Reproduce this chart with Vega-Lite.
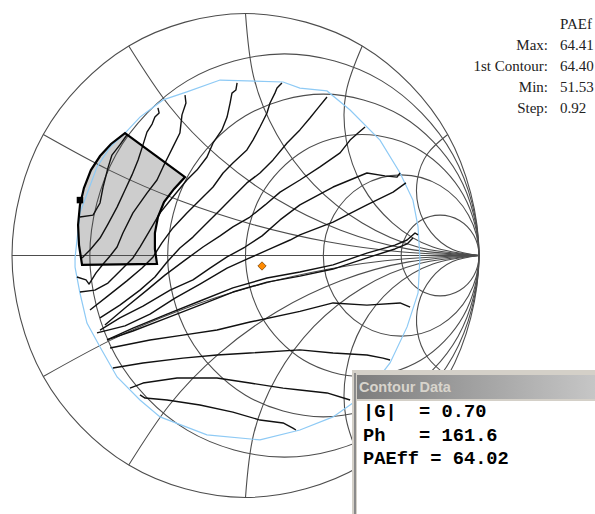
{
  "$schema": "https://vega.github.io/schema/vega-lite/v6.json",
  "description": "Smith chart with PAE load-pull contours, reflection-coefficient plane",
  "width": 595,
  "height": 514,
  "padding": 0,
  "autosize": "none",
  "background": "#ffffff",
  "config": {"view": {"stroke": null}},
  "datasets": {
    "rcircles": [
      {"c": "r0", "re": 1, "im": 0}, {"c": "r0", "re": 0.866, "im": 0.5}, {"c": "r0", "re": 0.5, "im": 0.866}, {"c": "r0", "re": 0, "im": 1},
      {"c": "r0", "re": -0.5, "im": 0.866}, {"c": "r0", "re": -0.866, "im": 0.5}, {"c": "r0", "re": -1, "im": 0}, {"c": "r0", "re": -0.866, "im": -0.5},
      {"c": "r0", "re": -0.5, "im": -0.866}, {"c": "r0", "re": 0, "im": -1}, {"c": "r0", "re": 0.5, "im": -0.866}, {"c": "r0", "re": 0.866, "im": -0.5},
      {"c": "r0.2", "re": 1, "im": 0}, {"c": "r0.2", "re": 0.8884, "im": 0.4167}, {"c": "r0.2", "re": 0.5833, "im": 0.7217}, {"c": "r0.2", "re": 0.1667, "im": 0.8333},
      {"c": "r0.2", "re": -0.25, "im": 0.7217}, {"c": "r0.2", "re": -0.555, "im": 0.4167}, {"c": "r0.2", "re": -0.6667, "im": 0}, {"c": "r0.2", "re": -0.555, "im": -0.4167},
      {"c": "r0.2", "re": -0.25, "im": -0.7217}, {"c": "r0.2", "re": 0.1667, "im": -0.8333}, {"c": "r0.2", "re": 0.5833, "im": -0.7217}, {"c": "r0.2", "re": 0.8884, "im": -0.4167},
      {"c": "r0.5", "re": 1, "im": 0}, {"c": "r0.5", "re": 0.9107, "im": 0.3333}, {"c": "r0.5", "re": 0.6667, "im": 0.5774}, {"c": "r0.5", "re": 0.3333, "im": 0.6667},
      {"c": "r0.5", "re": 0, "im": 0.5774}, {"c": "r0.5", "re": -0.244, "im": 0.3333}, {"c": "r0.5", "re": -0.3333, "im": 0}, {"c": "r0.5", "re": -0.244, "im": -0.3333},
      {"c": "r0.5", "re": 0, "im": -0.5774}, {"c": "r0.5", "re": 0.3333, "im": -0.6667}, {"c": "r0.5", "re": 0.6667, "im": -0.5774}, {"c": "r0.5", "re": 0.9107, "im": -0.3333},
      {"c": "r1", "re": 1, "im": 0}, {"c": "r1", "re": 0.933, "im": 0.25}, {"c": "r1", "re": 0.75, "im": 0.433}, {"c": "r1", "re": 0.5, "im": 0.5},
      {"c": "r1", "re": 0.25, "im": 0.433}, {"c": "r1", "re": 0.067, "im": 0.25}, {"c": "r1", "re": 0, "im": 0}, {"c": "r1", "re": 0.067, "im": -0.25},
      {"c": "r1", "re": 0.25, "im": -0.433}, {"c": "r1", "re": 0.5, "im": -0.5}, {"c": "r1", "re": 0.75, "im": -0.433}, {"c": "r1", "re": 0.933, "im": -0.25},
      {"c": "r2", "re": 1, "im": 0}, {"c": "r2", "re": 0.9553, "im": 0.1667}, {"c": "r2", "re": 0.8333, "im": 0.2887}, {"c": "r2", "re": 0.6667, "im": 0.3333},
      {"c": "r2", "re": 0.5, "im": 0.2887}, {"c": "r2", "re": 0.378, "im": 0.1667}, {"c": "r2", "re": 0.3333, "im": 0}, {"c": "r2", "re": 0.378, "im": -0.1667},
      {"c": "r2", "re": 0.5, "im": -0.2887}, {"c": "r2", "re": 0.6667, "im": -0.3333}, {"c": "r2", "re": 0.8333, "im": -0.2887}, {"c": "r2", "re": 0.9553, "im": -0.1667},
      {"c": "r5", "re": 1, "im": 0}, {"c": "r5", "re": 0.9776, "im": 0.0833}, {"c": "r5", "re": 0.9167, "im": 0.1443}, {"c": "r5", "re": 0.8333, "im": 0.1667},
      {"c": "r5", "re": 0.75, "im": 0.1443}, {"c": "r5", "re": 0.689, "im": 0.0833}, {"c": "r5", "re": 0.6667, "im": 0}, {"c": "r5", "re": 0.689, "im": -0.0833},
      {"c": "r5", "re": 0.75, "im": -0.1443}, {"c": "r5", "re": 0.8333, "im": -0.1667}, {"c": "r5", "re": 0.9167, "im": -0.1443}, {"c": "r5", "re": 0.9776, "im": -0.0833}
    ],
    "xarcs": [
      {"c": "axis", "re": -1, "im": 0}, {"c": "axis", "re": 1, "im": 0},
      {"c": "x0.27", "re": -0.866, "im": 0.5}, {"c": "x0.27", "re": -0.5772, "im": 0.3497}, {"c": "x0.27", "re": -0.2764, "im": 0.2251}, {"c": "x0.27", "re": 0.0341, "im": 0.1272}, {"c": "x0.27", "re": 0.352, "im": 0.0567}, {"c": "x0.27", "re": 0.6747, "im": 0.0142}, {"c": "x0.27", "re": 1, "im": 0},
      {"c": "x0.58", "re": -0.5, "im": 0.866}, {"c": "x0.58", "re": -0.3268, "im": 0.6188}, {"c": "x0.58", "re": -0.1134, "im": 0.4053}, {"c": "x0.58", "re": 0.134, "im": 0.2321}, {"c": "x0.58", "re": 0.4076, "im": 0.1045}, {"c": "x0.58", "re": 0.6992, "im": 0.0263}, {"c": "x0.58", "re": 1, "im": 0},
      {"c": "x1", "re": 0, "im": 1}, {"c": "x1", "re": 0.0341, "im": 0.7412}, {"c": "x1", "re": 0.134, "im": 0.5}, {"c": "x1", "re": 0.2929, "im": 0.2929}, {"c": "x1", "re": 0.5, "im": 0.134}, {"c": "x1", "re": 0.7412, "im": 0.0341}, {"c": "x1", "re": 1, "im": 0},
      {"c": "x1.73", "re": 0.5, "im": 0.866}, {"c": "x1.73", "re": 0.4314, "im": 0.6776}, {"c": "x1.73", "re": 0.4314, "im": 0.4772}, {"c": "x1.73", "re": 0.5, "im": 0.2887}, {"c": "x1.73", "re": 0.6289, "im": 0.1351}, {"c": "x1.73", "re": 0.8025, "im": 0.0348}, {"c": "x1.73", "re": 1, "im": 0},
      {"c": "x3.73", "re": 0.866, "im": 0.5}, {"c": "x3.73", "re": 0.7805, "im": 0.4216}, {"c": "x3.73", "re": 0.7362, "im": 0.3144}, {"c": "x3.73", "re": 0.7412, "im": 0.1986}, {"c": "x3.73", "re": 0.7948, "im": 0.0957}, {"c": "x3.73", "re": 0.8868, "im": 0.0251}, {"c": "x3.73", "re": 1, "im": 0},
      {"c": "x-0.27", "re": -0.866, "im": -0.5}, {"c": "x-0.27", "re": -0.5772, "im": -0.3497}, {"c": "x-0.27", "re": -0.2764, "im": -0.2251}, {"c": "x-0.27", "re": 0.0341, "im": -0.1272}, {"c": "x-0.27", "re": 0.352, "im": -0.0567}, {"c": "x-0.27", "re": 0.6747, "im": -0.0142}, {"c": "x-0.27", "re": 1, "im": 0},
      {"c": "x-0.58", "re": -0.5, "im": -0.866}, {"c": "x-0.58", "re": -0.3268, "im": -0.6188}, {"c": "x-0.58", "re": -0.1134, "im": -0.4053}, {"c": "x-0.58", "re": 0.134, "im": -0.2321}, {"c": "x-0.58", "re": 0.4076, "im": -0.1045}, {"c": "x-0.58", "re": 0.6992, "im": -0.0263}, {"c": "x-0.58", "re": 1, "im": 0},
      {"c": "x-1", "re": 0, "im": -1}, {"c": "x-1", "re": 0.0341, "im": -0.7412}, {"c": "x-1", "re": 0.134, "im": -0.5}, {"c": "x-1", "re": 0.2929, "im": -0.2929}, {"c": "x-1", "re": 0.5, "im": -0.134}, {"c": "x-1", "re": 0.7412, "im": -0.0341}, {"c": "x-1", "re": 1, "im": 0},
      {"c": "x-1.73", "re": 0.5, "im": -0.866}, {"c": "x-1.73", "re": 0.4314, "im": -0.6776}, {"c": "x-1.73", "re": 0.4314, "im": -0.4772}, {"c": "x-1.73", "re": 0.5, "im": -0.2887}, {"c": "x-1.73", "re": 0.6289, "im": -0.1351}, {"c": "x-1.73", "re": 0.8025, "im": -0.0348}, {"c": "x-1.73", "re": 1, "im": 0},
      {"c": "x-3.73", "re": 0.866, "im": -0.5}, {"c": "x-3.73", "re": 0.7805, "im": -0.4216}, {"c": "x-3.73", "re": 0.7362, "im": -0.3144}, {"c": "x-3.73", "re": 0.7412, "im": -0.1986}, {"c": "x-3.73", "re": 0.7948, "im": -0.0957}, {"c": "x-3.73", "re": 0.8868, "im": -0.0251}, {"c": "x-3.73", "re": 1, "im": 0}
    ],
    "region": [
      {"re": -0.516, "im": 0.506}, {"re": -0.259, "im": 0.324}, {"re": -0.306, "im": 0.275}, {"re": -0.349, "im": 0.221},
      {"re": -0.375, "im": 0.159}, {"re": -0.388, "im": 0.093}, {"re": -0.388, "im": 0.027}, {"re": -0.379, "im": -0.035},
      {"re": -0.7, "im": -0.039}, {"re": -0.713, "im": 0.043}, {"re": -0.717, "im": 0.126}, {"re": -0.709, "im": 0.209},
      {"re": -0.692, "im": 0.279}, {"re": -0.662, "im": 0.353}, {"re": -0.623, "im": 0.411}, {"re": -0.576, "im": 0.461}
    ],
    "edge": [
      {"re": -0.73, "im": -0.01}, {"re": -0.709, "im": 0.176}, {"re": -0.636, "im": 0.366}, {"re": -0.58, "im": 0.448},
      {"re": -0.516, "im": 0.506}, {"re": -0.452, "im": 0.572}, {"re": -0.353, "im": 0.643}, {"re": -0.251, "im": 0.676},
      {"re": -0.109, "im": 0.725}, {"re": 0.161, "im": 0.717}, {"re": 0.233, "im": 0.692}, {"re": 0.349, "im": 0.68},
      {"re": 0.448, "im": 0.601}, {"re": 0.576, "im": 0.477}, {"re": 0.662, "im": 0.341}, {"re": 0.717, "im": 0.229},
      {"re": 0.739, "im": 0.118}, {"re": 0.747, "im": -0.01}, {"re": 0.739, "im": -0.155}, {"re": 0.692, "im": -0.295},
      {"re": 0.619, "im": -0.444}, {"re": 0.52, "im": -0.568}, {"re": 0.375, "im": -0.667}, {"re": 0.233, "im": -0.721},
      {"re": 0.062, "im": -0.762}, {"re": -0.165, "im": -0.741}, {"re": -0.366, "im": -0.667}, {"re": -0.452, "im": -0.597},
      {"re": -0.55, "im": -0.502}, {"re": -0.623, "im": -0.378}, {"re": -0.679, "im": -0.279}, {"re": -0.709, "im": -0.155},
      {"re": -0.73, "im": -0.048}
    ],
    "contours": [
      {"c": "c1", "re": -0.709, "im": 0.159}, {"c": "c1", "re": -0.653, "im": 0.167}, {"c": "c1", "re": -0.623, "im": 0.217}, {"c": "c1", "re": -0.61, "im": 0.283},
      {"c": "c1", "re": -0.589, "im": 0.362}, {"c": "c1", "re": -0.572, "im": 0.415}, {"c": "c1", "re": -0.538, "im": 0.457}, {"c": "c1", "re": -0.508, "im": 0.498},
      {"c": "c2", "re": -0.7, "im": -0.01}, {"c": "c2", "re": -0.666, "im": 0.023}, {"c": "c2", "re": -0.623, "im": 0.072}, {"c": "c2", "re": -0.589, "im": 0.13},
      {"c": "c2", "re": -0.55, "im": 0.2}, {"c": "c2", "re": -0.516, "im": 0.271}, {"c": "c2", "re": -0.486, "im": 0.333}, {"c": "c2", "re": -0.46, "im": 0.395},
      {"c": "c2", "re": -0.439, "im": 0.457}, {"c": "c2", "re": -0.422, "im": 0.51}, {"c": "c2", "re": -0.4, "im": 0.543}, {"c": "c2", "re": -0.388, "im": 0.572},
      {"c": "c2", "re": -0.37, "im": 0.589}, {"c": "c2", "re": -0.375, "im": 0.61},
      {"c": "c3", "re": -0.722, "im": -0.089}, {"c": "c3", "re": -0.683, "im": -0.101}, {"c": "c3", "re": -0.67, "im": -0.118}, {"c": "c3", "re": -0.64, "im": -0.072},
      {"c": "c3", "re": -0.606, "im": -0.031}, {"c": "c3", "re": -0.58, "im": -0.002}, {"c": "c3", "re": -0.55, "im": 0.035}, {"c": "c3", "re": -0.525, "im": 0.093},
      {"c": "c3", "re": -0.482, "im": 0.176}, {"c": "c3", "re": -0.422, "im": 0.258}, {"c": "c3", "re": -0.379, "im": 0.312}, {"c": "c3", "re": -0.353, "im": 0.366},
      {"c": "c3", "re": -0.332, "im": 0.407}, {"c": "c3", "re": -0.311, "im": 0.448}, {"c": "c3", "re": -0.281, "im": 0.506}, {"c": "c3", "re": -0.272, "im": 0.581},
      {"c": "c3", "re": -0.255, "im": 0.63}, {"c": "c3", "re": -0.259, "im": 0.663},
      {"c": "c4", "re": -0.709, "im": -0.151}, {"c": "c4", "re": -0.645, "im": -0.143}, {"c": "c4", "re": -0.589, "im": -0.114}, {"c": "c4", "re": -0.533, "im": -0.06},
      {"c": "c4", "re": -0.482, "im": -0.01}, {"c": "c4", "re": -0.452, "im": 0.035}, {"c": "c4", "re": -0.409, "im": 0.105}, {"c": "c4", "re": -0.366, "im": 0.176},
      {"c": "c4", "re": -0.311, "im": 0.242}, {"c": "c4", "re": -0.251, "im": 0.312}, {"c": "c4", "re": -0.208, "im": 0.353}, {"c": "c4", "re": -0.165, "im": 0.407},
      {"c": "c4", "re": -0.139, "im": 0.465}, {"c": "c4", "re": -0.101, "im": 0.519}, {"c": "c4", "re": -0.079, "im": 0.572}, {"c": "c4", "re": -0.066, "im": 0.63},
      {"c": "c4", "re": -0.058, "im": 0.671}, {"c": "c4", "re": -0.041, "im": 0.684}, {"c": "c4", "re": -0.036, "im": 0.713},
      {"c": "c5", "re": -0.666, "im": -0.225}, {"c": "c5", "re": -0.589, "im": -0.167}, {"c": "c5", "re": -0.508, "im": -0.105}, {"c": "c5", "re": -0.443, "im": -0.052},
      {"c": "c5", "re": -0.396, "im": -0.006}, {"c": "c5", "re": -0.358, "im": 0.052}, {"c": "c5", "re": -0.311, "im": 0.114}, {"c": "c5", "re": -0.251, "im": 0.176},
      {"c": "c5", "re": -0.195, "im": 0.229}, {"c": "c5", "re": -0.139, "im": 0.283}, {"c": "c5", "re": -0.096, "im": 0.341}, {"c": "c5", "re": -0.054, "im": 0.382},
      {"c": "c5", "re": 0.006, "im": 0.436}, {"c": "c5", "re": 0.032, "im": 0.477}, {"c": "c5", "re": 0.062, "im": 0.531}, {"c": "c5", "re": 0.092, "im": 0.589},
      {"c": "c5", "re": 0.105, "im": 0.63}, {"c": "c5", "re": 0.126, "im": 0.671}, {"c": "c5", "re": 0.135, "im": 0.692}, {"c": "c5", "re": 0.156, "im": 0.713},
      {"c": "c6", "re": -0.623, "im": -0.258}, {"c": "c6", "re": -0.538, "im": -0.205}, {"c": "c6", "re": -0.452, "im": -0.143}, {"c": "c6", "re": -0.388, "im": -0.089},
      {"c": "c6", "re": -0.336, "im": -0.027}, {"c": "c6", "re": -0.281, "im": 0.031}, {"c": "c6", "re": -0.225, "im": 0.076}, {"c": "c6", "re": -0.165, "im": 0.134},
      {"c": "c6", "re": -0.109, "im": 0.188}, {"c": "c6", "re": -0.054, "im": 0.242}, {"c": "c6", "re": 0.006, "im": 0.3}, {"c": "c6", "re": 0.062, "im": 0.341},
      {"c": "c6", "re": 0.118, "im": 0.395}, {"c": "c6", "re": 0.178, "im": 0.465}, {"c": "c6", "re": 0.233, "im": 0.519}, {"c": "c6", "re": 0.276, "im": 0.568},
      {"c": "c6", "re": 0.311, "im": 0.61}, {"c": "c6", "re": 0.349, "im": 0.655},
      {"c": "c7", "re": -0.602, "im": -0.287}, {"c": "c7", "re": -0.516, "im": -0.217}, {"c": "c7", "re": -0.422, "im": -0.143}, {"c": "c7", "re": -0.345, "im": -0.081},
      {"c": "c7", "re": -0.259, "im": -0.019}, {"c": "c7", "re": -0.182, "im": 0.035}, {"c": "c7", "re": -0.109, "im": 0.081}, {"c": "c7", "re": -0.054, "im": 0.118},
      {"c": "c7", "re": 0.019, "im": 0.159}, {"c": "c7", "re": 0.084, "im": 0.209}, {"c": "c7", "re": 0.148, "im": 0.262}, {"c": "c7", "re": 0.233, "im": 0.312},
      {"c": "c7", "re": 0.319, "im": 0.366}, {"c": "c7", "re": 0.405, "im": 0.424}, {"c": "c7", "re": 0.448, "im": 0.477}, {"c": "c7", "re": 0.482, "im": 0.506},
      {"c": "c7", "re": 0.512, "im": 0.531},
      {"c": "c8", "re": -0.623, "im": -0.308}, {"c": "c8", "re": -0.538, "im": -0.258}, {"c": "c8", "re": -0.439, "im": -0.209}, {"c": "c8", "re": -0.323, "im": -0.143},
      {"c": "c8", "re": -0.225, "im": -0.101}, {"c": "c8", "re": -0.152, "im": -0.052}, {"c": "c8", "re": -0.079, "im": -0.006}, {"c": "c8", "re": -0.002, "im": 0.035},
      {"c": "c8", "re": 0.071, "im": 0.081}, {"c": "c8", "re": 0.148, "im": 0.147}, {"c": "c8", "re": 0.233, "im": 0.209}, {"c": "c8", "re": 0.375, "im": 0.283},
      {"c": "c8", "re": 0.52, "im": 0.341}, {"c": "c8", "re": 0.597, "im": 0.329}, {"c": "c8", "re": 0.649, "im": 0.324}, {"c": "c8", "re": 0.662, "im": 0.341},
      {"c": "c9", "re": -0.636, "im": -0.32}, {"c": "c9", "re": -0.516, "im": -0.291}, {"c": "c9", "re": -0.409, "im": -0.242}, {"c": "c9", "re": -0.302, "im": -0.176},
      {"c": "c9", "re": -0.195, "im": -0.118}, {"c": "c9", "re": -0.079, "im": -0.052}, {"c": "c9", "re": 0.006, "im": -0.015}, {"c": "c9", "re": 0.105, "im": 0.027},
      {"c": "c9", "re": 0.191, "im": 0.064}, {"c": "c9", "re": 0.233, "im": 0.085}, {"c": "c9", "re": 0.375, "im": 0.138}, {"c": "c9", "re": 0.52, "im": 0.209},
      {"c": "c9", "re": 0.632, "im": 0.262}, {"c": "c9", "re": 0.687, "im": 0.3},
      {"c": "c10", "re": -0.593, "im": -0.349}, {"c": "c10", "re": -0.482, "im": -0.3}, {"c": "c10", "re": -0.336, "im": -0.242}, {"c": "c10", "re": -0.195, "im": -0.188},
      {"c": "c10", "re": -0.054, "im": -0.134}, {"c": "c10", "re": 0.092, "im": -0.093}, {"c": "c10", "re": 0.233, "im": -0.068}, {"c": "c10", "re": 0.375, "im": -0.039},
      {"c": "c10", "re": 0.52, "im": 0.01}, {"c": "c10", "re": 0.64, "im": 0.043}, {"c": "c10", "re": 0.692, "im": 0.064}, {"c": "c10", "re": 0.726, "im": 0.093},
      {"c": "c10", "re": 0.739, "im": 0.085},
      {"c": "c10b", "re": -0.593, "im": -0.349}, {"c": "c10b", "re": -0.482, "im": -0.312}, {"c": "c10b", "re": -0.336, "im": -0.258}, {"c": "c10b", "re": -0.195, "im": -0.205},
      {"c": "c10b", "re": -0.054, "im": -0.151}, {"c": "c10b", "re": 0.092, "im": -0.11}, {"c": "c10b", "re": 0.233, "im": -0.085}, {"c": "c10b", "re": 0.375, "im": -0.056},
      {"c": "c10b", "re": 0.52, "im": -0.01}, {"c": "c10b", "re": 0.64, "im": 0.027}, {"c": "c10b", "re": 0.692, "im": 0.048}, {"c": "c10b", "re": 0.717, "im": 0.072},
      {"c": "c11", "re": -0.58, "im": -0.382}, {"c": "c11", "re": -0.409, "im": -0.349}, {"c": "c11", "re": -0.268, "im": -0.329}, {"c": "c11", "re": -0.122, "im": -0.308},
      {"c": "c11", "re": 0.019, "im": -0.275}, {"c": "c11", "re": 0.233, "im": -0.231}, {"c": "c11", "re": 0.375, "im": -0.196}, {"c": "c11", "re": 0.52, "im": -0.205},
      {"c": "c11", "re": 0.662, "im": -0.196}, {"c": "c11", "re": 0.705, "im": -0.213},
      {"c": "c12", "re": -0.568, "im": -0.465}, {"c": "c12", "re": -0.439, "im": -0.444}, {"c": "c12", "re": -0.268, "im": -0.424}, {"c": "c12", "re": -0.122, "im": -0.411},
      {"c": "c12", "re": 0.019, "im": -0.403}, {"c": "c12", "re": 0.233, "im": -0.39}, {"c": "c12", "re": 0.375, "im": -0.403}, {"c": "c12", "re": 0.52, "im": -0.411},
      {"c": "c12", "re": 0.589, "im": -0.424}, {"c": "c12", "re": 0.619, "im": -0.432},
      {"c": "c13", "re": -0.495, "im": -0.548}, {"c": "c13", "re": -0.439, "im": -0.527}, {"c": "c13", "re": -0.293, "im": -0.506}, {"c": "c13", "re": -0.122, "im": -0.506},
      {"c": "c13", "re": 0.019, "im": -0.527}, {"c": "c13", "re": 0.161, "im": -0.548}, {"c": "c13", "re": 0.233, "im": -0.556}, {"c": "c13", "re": 0.349, "im": -0.568},
      {"c": "c13", "re": 0.448, "im": -0.597},
      {"c": "c14", "re": -0.452, "im": -0.576}, {"c": "c14", "re": -0.43, "im": -0.589}, {"c": "c14", "re": -0.336, "im": -0.597}, {"c": "c14", "re": -0.195, "im": -0.618},
      {"c": "c14", "re": -0.054, "im": -0.647}, {"c": "c14", "re": 0.062, "im": -0.68}, {"c": "c14", "re": 0.161, "im": -0.692}, {"c": "c14", "re": 0.203, "im": -0.713},
      {"c": "c14", "re": 0.216, "im": -0.721}
    ]
  },
  "layer": [
    {
      "data": {"name": "region"},
      "mark": {"type": "line", "interpolate": "linear-closed", "fill": "#cdcdcd", "strokeWidth": 0},
      "encoding": {
        "x": {"field": "re", "type": "quantitative", "scale": {"domain": [-1.0514, 1.4968], "nice": false, "zero": false}, "axis": null},
        "y": {"field": "im", "type": "quantitative", "scale": {"domain": [-1.0682, 1.0558], "nice": false, "zero": false}, "axis": null},
        "order": {"value": null}
      }
    },
    {
      "data": {"name": "rcircles"},
      "mark": {"type": "line", "interpolate": "cardinal-closed", "color": "#4d4d4d", "strokeWidth": 1.1},
      "encoding": {
        "x": {"field": "re", "type": "quantitative", "axis": null},
        "y": {"field": "im", "type": "quantitative", "axis": null},
        "detail": {"field": "c"}, "order": {"value": null}
      }
    },
    {
      "data": {"name": "xarcs"},
      "mark": {"type": "line", "interpolate": "natural", "color": "#4d4d4d", "strokeWidth": 1.1},
      "encoding": {
        "x": {"field": "re", "type": "quantitative", "axis": null},
        "y": {"field": "im", "type": "quantitative", "axis": null},
        "detail": {"field": "c"}, "order": {"value": null}
      }
    },
    {
      "data": {"name": "edge"},
      "mark": {"type": "line", "interpolate": "linear-closed", "color": "#8ecaf5", "strokeWidth": 1.2},
      "encoding": {
        "x": {"field": "re", "type": "quantitative", "axis": null},
        "y": {"field": "im", "type": "quantitative", "axis": null},
        "order": {"value": null}
      }
    },
    {
      "data": {"name": "contours"},
      "mark": {"type": "line", "color": "#111111", "strokeWidth": 1.4, "strokeJoin": "round"},
      "encoding": {
        "x": {"field": "re", "type": "quantitative", "axis": null},
        "y": {"field": "im", "type": "quantitative", "axis": null},
        "detail": {"field": "c"}, "order": {"value": null}
      }
    },
    {
      "data": {"name": "region"},
      "mark": {"type": "line", "interpolate": "linear-closed", "color": "#000000", "strokeWidth": 2.2},
      "encoding": {
        "x": {"field": "re", "type": "quantitative", "axis": null},
        "y": {"field": "im", "type": "quantitative", "axis": null},
        "order": {"value": null}
      }
    },
    {
      "data": {"values": [{"re": -0.709, "im": 0.229}]},
      "mark": {"type": "point", "shape": "square", "filled": true, "color": "#000000", "size": 42, "opacity": 1},
      "encoding": {
        "x": {"field": "re", "type": "quantitative", "axis": null},
        "y": {"field": "im", "type": "quantitative", "axis": null}
      }
    },
    {
      "data": {"values": [{"re": 0.0707, "im": -0.0434}]},
      "mark": {"type": "point", "shape": "diamond", "filled": true, "fill": "#ff8a00", "stroke": "#6b3a00", "strokeWidth": 0.7, "size": 70, "opacity": 1},
      "encoding": {
        "x": {"field": "re", "type": "quantitative", "axis": null},
        "y": {"field": "im", "type": "quantitative", "axis": null}
      }
    },
    {
      "data": {"values": [{}]},
      "mark": {"type": "text", "text": ["Max:", "1st Contour:", "Min:", "Step:"], "align": "right", "baseline": "top", "lineHeight": 21.2, "font": "Liberation Serif", "fontSize": 15, "color": "#222222"},
      "encoding": {
        "x": {"value": {"expr": "scale('x', 1.2955)"}},
        "y": {"value": {"expr": "scale('y', 0.9004)"}}
      }
    },
    {
      "data": {"values": [{}]},
      "mark": {"type": "text", "text": ["PAEf", "64.41", "64.40", "51.53", "0.92"], "align": "left", "baseline": "top", "lineHeight": 21.2, "font": "Liberation Serif", "fontSize": 15, "color": "#222222"},
      "encoding": {
        "x": {"value": {"expr": "scale('x', 1.3469)"}},
        "y": {"value": {"expr": "scale('y', 0.9872)"}}
      }
    },
    {
      "data": {"values": [{}]},
      "mark": {"type": "rect", "fill": "#d4d0c8"},
      "encoding": {
        "x": {"value": {"expr": "scale('x', 0.4561)"}}, "x2": {"value": {"expr": "scale('x', 1.4968)"}},
        "y": {"value": {"expr": "scale('y', -0.4731)"}}, "y2": {"value": {"expr": "scale('y', -1.0682)"}}
      }
    },
    {
      "data": {"values": [{}]},
      "mark": {"type": "rect", "fill": "#8a8a8a"},
      "encoding": {
        "x": {"value": {"expr": "scale('x', 0.4647)"}}, "x2": {"value": {"expr": "scale('x', 0.4732)"}},
        "y": {"value": {"expr": "scale('y', -0.4855)"}}, "y2": {"value": {"expr": "scale('y', -1.0682)"}}
      }
    },
    {
      "data": {"values": [{}]},
      "mark": {"type": "rect", "fill": {"gradient": "linear", "x1": 0, "y1": 0, "x2": 1, "y2": 0, "stops": [{"offset": 0, "color": "#7d7d7d"}, {"offset": 1, "color": "#c6c6c6"}]}},
      "encoding": {
        "x": {"value": {"expr": "scale('x', 0.4775)"}}, "x2": {"value": {"expr": "scale('x', 1.4968)"}},
        "y": {"value": {"expr": "scale('y', -0.4938)"}}, "y2": {"value": {"expr": "scale('y', -0.593)"}}
      }
    },
    {
      "data": {"values": [{}]},
      "mark": {"type": "rect", "fill": "#ffffff"},
      "encoding": {
        "x": {"value": {"expr": "scale('x', 0.4775)"}}, "x2": {"value": {"expr": "scale('x', 1.4968)"}},
        "y": {"value": {"expr": "scale('y', -0.6012)"}}, "y2": {"value": {"expr": "scale('y', -1.0682)"}}
      }
    },
    {
      "data": {"values": [{}]},
      "mark": {"type": "text", "text": "Contour Data", "align": "left", "baseline": "middle", "font": "Liberation Sans", "fontWeight": "bold", "fontSize": 14.5, "color": "#d8d4cc"},
      "encoding": {
        "x": {"value": {"expr": "scale('x', 0.4861)"}},
        "y": {"value": {"expr": "scale('y', -0.5455)"}}
      }
    },
    {
      "data": {"values": [{}]},
      "mark": {"type": "text", "text": ["|G|\u00a0\u00a0=\u00a00.70", "Ph\u00a0\u00a0\u00a0=\u00a0161.6", "PAEff\u00a0=\u00a064.02"], "align": "left", "baseline": "top", "lineHeight": 23.6, "font": "Liberation Mono", "fontWeight": "bold", "fontSize": 18.7, "color": "#000000"},
      "encoding": {
        "x": {"value": {"expr": "scale('x', 0.5032)"}},
        "y": {"value": {"expr": "scale('y', -0.6062)"}}
      }
    }
  ]
}
